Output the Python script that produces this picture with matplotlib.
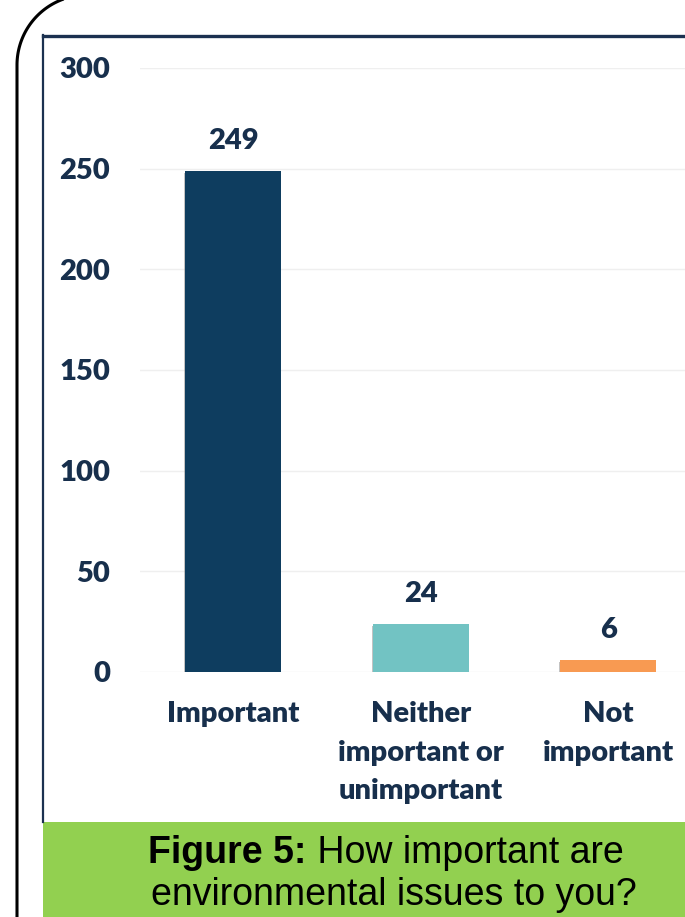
import numpy as np
import matplotlib
matplotlib.use("Agg")
import matplotlib.pyplot as plt
from matplotlib import patheffects as pe
from matplotlib.patches import Rectangle

# survey responses
categories = ["Important", "Neither\nimportant or\nunimportant", "Not\nimportant"]
counts = [249, 24, 6]
bar_colours = ["#0e3d5f", "#72c3c3", "#f89a52"]
yticks = [0, 50, 100, 150, 200, 250, 300]

caption_bold = "Figure 5:"
caption_rest = " How important are"
caption_line2 = "environmental issues to you?"

W, H = 685, 917
TEXT = "#172f4c"
FS = 21
WEIGHT = "heavy"
plt.rcParams["font.family"] = ["Lato", "DejaVu Sans"]

fig = plt.figure(figsize=(W / 100, H / 100), dpi=100)

# frame, border and caption band drawn in pixel space
bg = fig.add_axes([0, 0, 1, 1], zorder=0)
bg.set_xlim(0, W)
bg.set_ylim(H, 0)
bg.axis("off")

cx, cy, r = 87, 65, 70
th = np.linspace(np.pi, 1.5 * np.pi, 60)
xs = np.concatenate([[17], cx + r * np.cos(th), [W + 10]])
ys = np.concatenate([[H + 10], cy + r * np.sin(th), [cy - r]])
bg.plot(xs, ys, color="black", lw=2.2, solid_capstyle="butt")

bg.plot([43.5, 43.5], [35, 822], color="#1b3150", lw=1.6)
bg.plot([43.5, W + 5], [35.5, 35.5], color="#1b3150", lw=2.4)
bg.add_patch(Rectangle((43, 822), W, 100, color="#92d050", lw=0))

fs_cap = 27
t1 = bg.text(0, 0, caption_bold, fontsize=fs_cap, fontweight="bold",
             family="Liberation Sans", va="center", ha="left")
t2 = bg.text(0, 0, caption_rest, fontsize=fs_cap, family="Liberation Sans",
             va="center", ha="left")
fig.canvas.draw()
w1 = t1.get_window_extent().width
w2 = t2.get_window_extent().width
x0 = 386 - (w1 + w2) / 2
t1.set_position((x0, 853))
t2.set_position((x0 + w1, 853))
bg.text(394, 895, caption_line2, fontsize=fs_cap, family="Liberation Sans",
        va="center", ha="center")

# bar chart
ax = fig.add_axes([139.5 / W, 1 - 672 / H, 562.5 / W, 604 / H], zorder=1)
ax.set_facecolor("none")
x = np.arange(len(counts))
bars = ax.bar(x, counts, width=0.51, color=bar_colours, zorder=2)
for b in bars:
    b.set_path_effects([pe.SimplePatchShadow(offset=(-1, -1.5), shadow_rgbFace="#888888",
                                             alpha=0.5), pe.Normal()])
for xi, v in zip(x, counts):
    ax.annotate(str(v), (xi, v), xytext=(0, 12), textcoords="offset points",
                ha="center", va="bottom", fontsize=FS, fontweight=WEIGHT, color=TEXT)

ax.set_xlim(-0.5, 2.5)
ax.set_ylim(0, 300)
ax.set_yticks(yticks)
ax.set_xticks(x)
ax.set_xticklabels(categories, fontsize=FS, fontweight=WEIGHT, color=TEXT,
                   linespacing=1.6, va="top")
ax.tick_params(axis="y", length=0, pad=21, labelsize=FS, labelcolor=TEXT)
ax.tick_params(axis="x", length=0, pad=21)
for lab in ax.get_yticklabels():
    lab.set_fontweight(WEIGHT)
ax.grid(axis="y", color="#efefef", lw=1, zorder=0)
for s in ax.spines.values():
    s.set_visible(False)

fig.savefig("out.png", dpi=100)
